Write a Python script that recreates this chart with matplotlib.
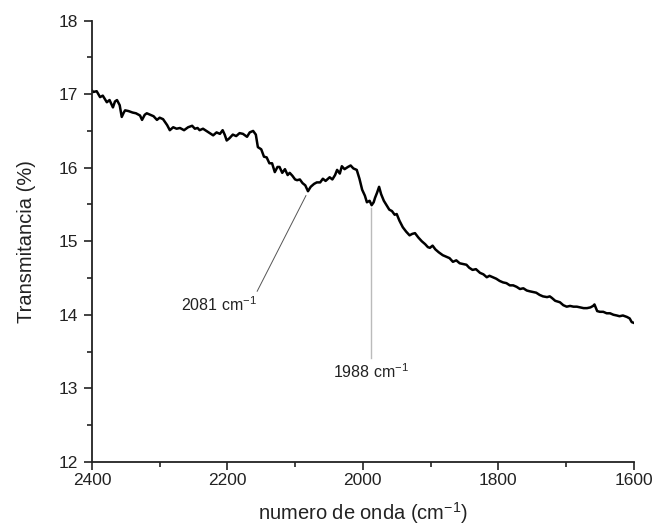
import matplotlib
matplotlib.use("Agg")
import matplotlib.pyplot as plt
from matplotlib.ticker import MultipleLocator

plt.rcParams['font.family'] = ['Liberation Sans', 'DejaVu Sans']
plt.rcParams['mathtext.default'] = 'regular'

# IR spectrum: wavenumber (cm^-1) and transmittance (%)
wavenumber = [
    2400, 2398, 2393, 2388, 2384, 2378, 2374, 2369, 2366, 2363, 2359, 2356, 2353, 2351,
    2346, 2340, 2335, 2329, 2326, 2322, 2319, 2314, 2309, 2304, 2300, 2295, 2289, 2285,
    2280, 2275, 2270, 2264, 2258, 2252, 2248, 2244, 2241, 2236, 2231, 2226, 2221, 2216,
    2211, 2207, 2204, 2201, 2197, 2192, 2187, 2182, 2177, 2171, 2167, 2162, 2158, 2155,
    2150, 2146, 2142, 2138, 2134, 2130, 2126, 2123, 2119, 2115, 2111, 2108, 2104, 2100,
    2097, 2093, 2089, 2085, 2081, 2077, 2072, 2068, 2063, 2059, 2055, 2049, 2045, 2041,
    2038, 2034, 2031, 2027, 2022, 2018, 2014, 2009, 2005, 2001, 1997, 1994, 1990, 1987,
    1984, 1982, 1979, 1976, 1973, 1969, 1965, 1961, 1957, 1953, 1950, 1946, 1941, 1936,
    1931, 1927, 1923, 1918, 1913, 1908, 1904, 1901, 1897, 1893, 1888, 1882, 1877, 1872,
    1867, 1862, 1857, 1852, 1847, 1843, 1838, 1833, 1827, 1822, 1817, 1813, 1808, 1803,
    1798, 1793, 1788, 1783, 1778, 1773, 1768, 1763, 1758, 1754, 1749, 1744, 1739, 1734,
    1728, 1724, 1721, 1716, 1709, 1704, 1699, 1694, 1689, 1684, 1679, 1674, 1669, 1664,
    1660, 1658, 1654, 1650, 1645, 1640, 1635, 1630, 1625, 1621, 1616, 1610, 1606, 1603,
    1600,
]
transmittance = [
    17.05, 17.03, 17.04, 16.96, 16.98, 16.89, 16.92, 16.82, 16.90, 16.92, 16.85, 16.69, 16.75, 16.78,
    16.77, 16.75, 16.74, 16.71, 16.65, 16.72, 16.74, 16.72, 16.70, 16.65, 16.68, 16.66, 16.58, 16.51,
    16.55, 16.53, 16.54, 16.51, 16.55, 16.57, 16.53, 16.54, 16.51, 16.53, 16.50, 16.47, 16.44, 16.48,
    16.46, 16.51, 16.45, 16.37, 16.40, 16.45, 16.43, 16.47, 16.46, 16.42, 16.48, 16.50, 16.45, 16.28,
    16.25, 16.15, 16.14, 16.06, 16.06, 15.94, 16.01, 16.01, 15.93, 15.98, 15.90, 15.93, 15.89, 15.84,
    15.83, 15.84, 15.79, 15.76, 15.68, 15.74, 15.78, 15.80, 15.80, 15.85, 15.82, 15.87, 15.84, 15.90,
    15.97, 15.92, 16.02, 15.98, 16.01, 16.03, 15.99, 15.97, 15.85, 15.70, 15.62, 15.53, 15.55, 15.49,
    15.53, 15.59, 15.66, 15.74, 15.64, 15.55, 15.49, 15.43, 15.41, 15.36, 15.37, 15.28, 15.19, 15.13,
    15.08, 15.10, 15.11, 15.05, 15.00, 14.96, 14.92, 14.91, 14.94, 14.89, 14.85, 14.81, 14.79, 14.77,
    14.72, 14.74, 14.70, 14.69, 14.68, 14.64, 14.61, 14.62, 14.57, 14.55, 14.51, 14.53, 14.51, 14.49,
    14.46, 14.44, 14.43, 14.40, 14.40, 14.38, 14.35, 14.36, 14.33, 14.32, 14.31, 14.30, 14.27, 14.25,
    14.24, 14.25, 14.23, 14.19, 14.17, 14.13, 14.11, 14.12, 14.11, 14.11, 14.10, 14.09, 14.09, 14.10,
    14.12, 14.14, 14.05, 14.04, 14.04, 14.02, 14.02, 14.00, 13.99, 13.98, 13.99, 13.97, 13.95, 13.90,
    13.89,
]

x_ticks = [2400, 2200, 2000, 1800, 1600]
y_ticks = [12, 13, 14, 15, 16, 17, 18]

fig = plt.figure(figsize=(6.52, 5.29), dpi=100)
ax = fig.add_axes([0.141, 0.127, 0.831, 0.834])

ax.plot(wavenumber, transmittance, color='black', lw=1.8, solid_joinstyle='round')

ax.set_xlim(2400, 1600)
ax.set_ylim(12, 18)
ax.set_xticks(x_ticks)
ax.set_yticks(y_ticks)
ax.xaxis.set_minor_locator(MultipleLocator(100))
ax.yaxis.set_minor_locator(MultipleLocator(0.5))

for side in ('top', 'right'):
    ax.spines[side].set_visible(False)
for side in ('left', 'bottom'):
    ax.spines[side].set_linewidth(1.3)
    ax.spines[side].set_color('#222222')

ax.tick_params(which='major', direction='out', length=6, width=1.2, labelsize=12.5,
               colors='#222222', labelcolor='#222222')
ax.tick_params(axis='y', which='major', pad=4)
ax.tick_params(axis='x', which='major', pad=2)
ax.tick_params(which='minor', direction='out', length=3.5, width=1.2, colors='#222222')

ax.set_xlabel('numero de onda (cm$^{-1}$)', fontsize=14.5, color='#222222', labelpad=9)
ax.set_ylabel('Transmitancia (%)', fontsize=14.5, color='#222222', labelpad=16)

# Band annotations
ax.plot([2156, 2084], [14.32, 15.62], color='#555555', lw=0.7)
ax.text(2156, 14.14, '2081 cm$^{-1}$', ha='right', va='center', fontsize=11.5, color='#222222')

ax.plot([1988, 1988], [13.41, 15.45], color='#bbbbbb', lw=1.0)
ax.text(1988, 13.23, '1988 cm$^{-1}$', ha='center', va='center', fontsize=11.5, color='#222222')

fig.savefig('out.png', dpi=100)
